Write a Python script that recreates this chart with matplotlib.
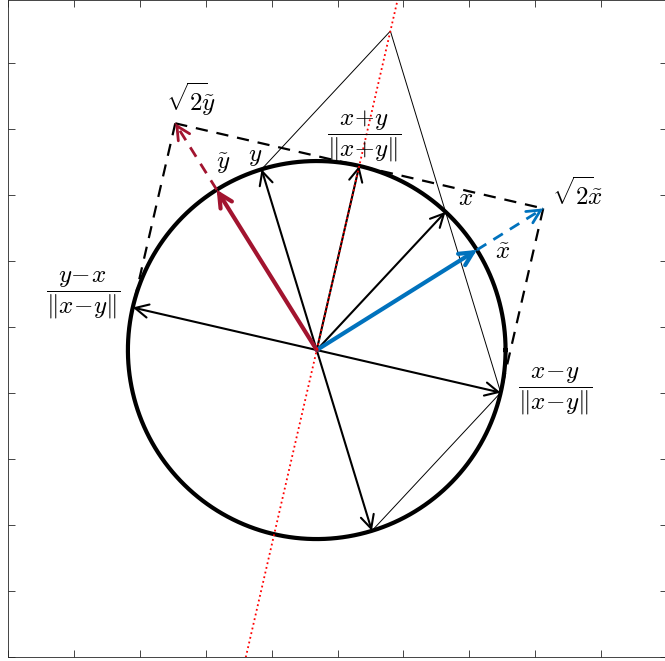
import numpy as np
import matplotlib.pyplot as plt

plt.rcParams['mathtext.fontset'] = 'cm'

# unit vectors x and y (angles: ~47 and ~107 degrees)
x_vec = np.array([0.682, 0.731])
y_vec = np.array([-0.292, 0.956])

red = '#A2142F'
blue = '#0072BD'

x_vec = x_vec / np.linalg.norm(x_vec)
y_vec = y_vec / np.linalg.norm(y_vec)
s = x_vec + y_vec
d = x_vec - y_vec
u = s / np.linalg.norm(s)          # (x+y)/||x+y||
v = d / np.linalg.norm(d)          # (x-y)/||x-y||
xt = (u + v) / np.sqrt(2)          # x tilde
yt = (u - v) / np.sqrt(2)          # y tilde

fig = plt.figure(figsize=(6.65, 6.61), dpi=100)
ax = fig.add_axes([8 / 665, 4 / 661, 659 / 665, 657 / 661])
ax.set_xlim(-1.635, 1.852)
ax.set_ylim(-1.624, 1.852)

# unit circle
t = np.linspace(0, 2 * np.pi, 400)
ax.plot(np.cos(t), np.sin(t), color='k', lw=3, zorder=3)

# parallelogram lines
ax.plot([y_vec[0], s[0], d[0], -y_vec[0]], [y_vec[1], s[1], d[1], -y_vec[1]],
        color='k', lw=0.7, zorder=2)

# dashed square sides
sq = [np.sqrt(2) * yt, np.sqrt(2) * xt]
ax.plot([sq[0][0], sq[1][0]], [sq[0][1], sq[1][1]], 'k--', lw=1.6, dashes=(5.5, 4), zorder=2)
ax.plot([sq[1][0], v[0]], [sq[1][1], v[1]], 'k--', lw=1.6, dashes=(5.5, 4), zorder=2)
ax.plot([sq[0][0], -v[0]], [sq[0][1], -v[1]], 'k--', lw=1.6, dashes=(5.5, 4), zorder=2)


def arrow(tip, start=(0, 0), color='k', lw=1.5, z=4):
    ax.annotate('', xy=tuple(tip), xytext=tuple(start),
                arrowprops=dict(arrowstyle='->', color=color, lw=lw, shrinkA=0, shrinkB=0,
                                mutation_scale=24, joinstyle='miter'),
                zorder=z)


# black arrows
for vec in [x_vec, y_vec, u, v, -v, -y_vec]:
    arrow(vec)

# coloured dashed extensions to sqrt(2) * tilde
for vec, col in [(xt, blue), (yt, red)]:
    end = np.sqrt(2) * vec
    ax.plot([vec[0], end[0]], [vec[1], end[1]], color=col, lw=2, dashes=(4, 3), zorder=4)
    arrow(end, start=end - 0.02 * vec, color=col, lw=2, z=5)
    arrow(vec, color=col, lw=3, z=5)

# red dotted line along x+y
ax.plot([-2 * u[0], 2 * u[0]], [-2 * u[1], 2 * u[1]], color='red', lw=1.3, ls=':', zorder=6)

# labels
fs = 18
labels = [
    (np.sqrt(2) * yt, r'$\sqrt{2}\!\tilde{y}$', (16, 24)),
    (yt, r'$\tilde{y}$', (6, 26)),
    (y_vec, r'$y$', (-6, 13)),
    (u, r'$\dfrac{x\!+\!y}{\Vert x\!+\!y\Vert}$', (5, 30)),
    (x_vec, r'$x$', (20, 14)),
    (np.sqrt(2) * xt, r'$\sqrt{2}\!\tilde{x}$', (34, 15)),
    (xt, r'$\tilde{x}$', (26, -2)),
    (-v, r'$\dfrac{y\!-\!x}{\Vert x\!-\!y\Vert}$', (-50, 12)),
    (v, r'$\dfrac{x\!-\!y}{\Vert x\!-\!y\Vert}$', (55, 2)),
]
for pos, txt, off in labels:
    ax.annotate(txt, xy=tuple(pos), xytext=off, textcoords='offset pixels',
                ha='center', va='center', fontsize=fs, zorder=7)

ax.set_xticks(np.arange(-1.635, 1.86, 0.349))
ax.set_yticks(np.arange(-1.624, 1.86, 0.349))
ax.set_xticklabels([])
ax.set_yticklabels([])
ax.tick_params(direction='in', top=True, right=True, length=5, width=0.6, color='#262626')
for sp in ax.spines.values():
    sp.set_color('#262626')
    sp.set_linewidth(0.6)

fig.savefig('out.png', dpi=100)
